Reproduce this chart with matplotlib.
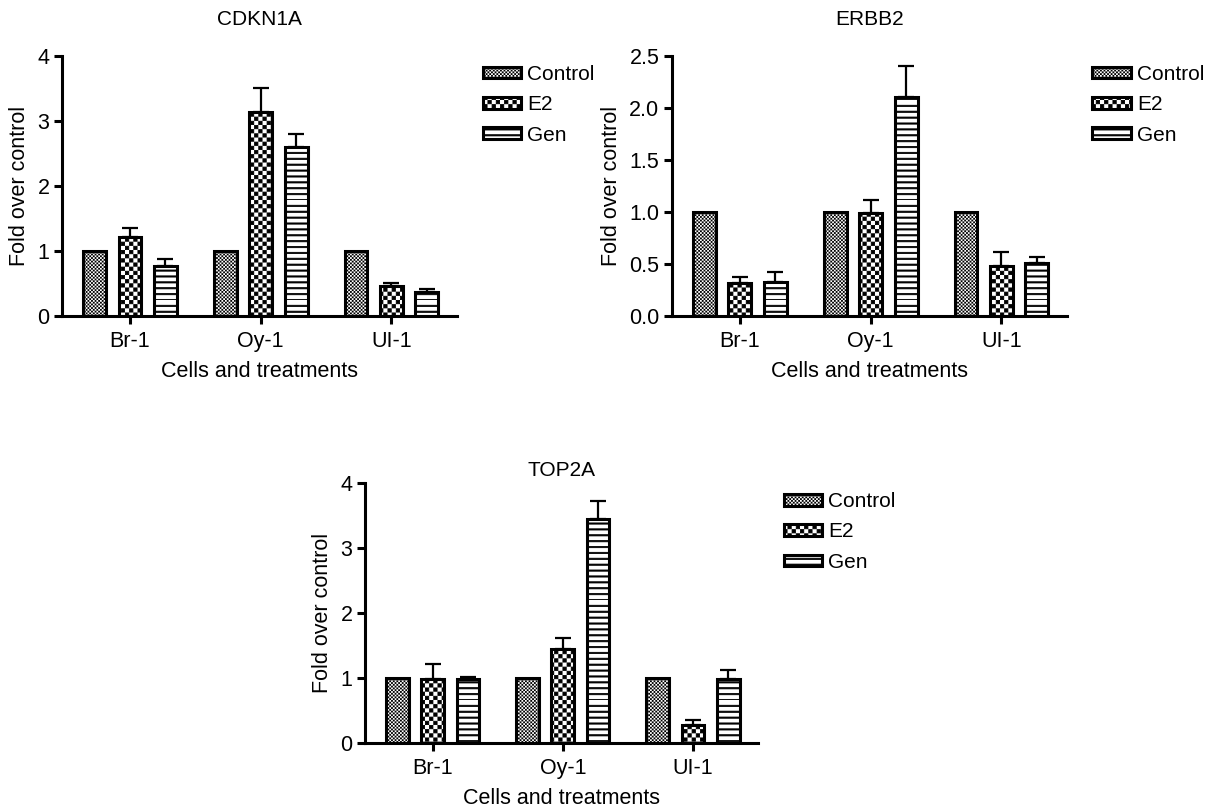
import warnings
import numpy as np
import matplotlib
matplotlib.use('Agg')
import matplotlib.pyplot as plt
import matplotlib.hatch as mhatch
from matplotlib.path import Path

warnings.filterwarnings('ignore')

# data
cells = ['Br-1', 'Oy-1', 'UI-1']
treatments = ['Control', 'E2', 'Gen']

cdkn1a_control = [1.0, 1.0, 1.0]
cdkn1a_e2 = [1.22, 3.14, 0.46]
cdkn1a_gen = [0.76, 2.60, 0.37]
cdkn1a_e2_err = [0.13, 0.36, 0.04]
cdkn1a_gen_err = [0.11, 0.20, 0.04]

erbb2_control = [1.0, 1.0, 1.0]
erbb2_e2 = [0.32, 0.99, 0.48]
erbb2_gen = [0.33, 2.10, 0.51]
erbb2_e2_err = [0.05, 0.12, 0.13]
erbb2_gen_err = [0.09, 0.30, 0.06]

top2a_control = [1.0, 1.0, 1.0]
top2a_e2 = [0.98, 1.45, 0.27]
top2a_gen = [0.98, 3.45, 0.99]
top2a_e2_err = [0.23, 0.17, 0.08]
top2a_gen_err = [0.04, 0.27, 0.14]

HATCH_LW = 0.6
EDGE = HATCH_LW / 72.0 / 2  # half the hatch stroke, in hatch units


def rect(vertices, codes, k, x0, y0, x1, y1):
    vertices[k:k + 5] = [[x0, y0], [x1, y0], [x1, y1], [x0, y1], [x0, y0]]
    codes[k:k + 5] = [Path.MOVETO, Path.LINETO, Path.LINETO,
                      Path.LINETO, Path.CLOSEPOLY]


# checkerboard hatch ('c' repeated sets how fine it is)
class CheckerHatch(mhatch.HatchPatternBase):
    def __init__(self, hatch, density):
        self.n = hatch.count('c') * 2
        self.num_vertices = (self.n * self.n // 2) * 5 if self.n else 0

    def set_vertices_and_codes(self, vertices, codes):
        s = 1.0 / self.n
        k = 0
        for i in range(self.n):
            for j in range(self.n):
                if (i + j) % 2:
                    continue
                rect(vertices, codes, k, i * s + EDGE, j * s + EDGE,
                     (i + 1) * s - EDGE, (j + 1) * s - EDGE)
                k += 5


# thick horizontal stripes ('h' repeated = number of stripes)
class StripeHatch(mhatch.HatchPatternBase):
    def __init__(self, hatch, density):
        self.n = hatch.count('h')
        self.num_vertices = self.n * 5

    def set_vertices_and_codes(self, vertices, codes):
        s = 1.0 / self.n
        t = 0.006
        for i in range(self.n):
            y = i * s
            rect(vertices, codes, i * 5, -0.01, y - t, 1.01, y + t)


mhatch._hatch_types.append(CheckerHatch)
mhatch._hatch_types.append(StripeHatch)

plt.rcParams['font.family'] = ['Liberation Sans', 'DejaVu Sans']
plt.rcParams['hatch.linewidth'] = HATCH_LW

hatches = ['c' * 28, 'c' * 12, 'h' * 17]

fig = plt.figure(figsize=(12.15, 8.08), dpi=100)

panels = [
    ('CDKN1A', [0.051, 0.609, 0.325, 0.322], cdkn1a_control, cdkn1a_e2, cdkn1a_gen,
     cdkn1a_e2_err, cdkn1a_gen_err, 4, [0, 1, 2, 3, 4], '%d', 22),
    ('ERBB2', [0.553, 0.609, 0.325, 0.322], erbb2_control, erbb2_e2, erbb2_gen,
     erbb2_e2_err, erbb2_gen_err, 2.5, [0, 0.5, 1.0, 1.5, 2.0, 2.5], '%.1f', 22),
    ('TOP2A', [0.3004, 0.0804, 0.3235, 0.322], top2a_control, top2a_e2, top2a_gen,
     top2a_e2_err, top2a_gen_err, 4, [0, 1, 2, 3, 4], '%d', 5),
]

x = np.arange(len(cells))
pitch = 0.271
w = 0.175
fs = 15.5

for title, pos, ctrl, e2, gen, e2err, generr, ymax, yt, fmt, tpad in panels:
    ax = fig.add_axes(pos)
    vals = [ctrl, e2, gen]
    errs = [None, e2err, generr]
    for k in range(3):
        xs = x + (k - 1) * pitch
        if errs[k] is not None:
            ax.errorbar(xs, vals[k], yerr=[np.zeros(3), errs[k]], fmt='none',
                        ecolor='black', elinewidth=1.6, capsize=5.5, capthick=1.6,
                        zorder=1)
        ax.bar(xs, vals[k], width=w, color='white', edgecolor='black',
               linewidth=2.2, hatch=hatches[k], label=treatments[k], zorder=2)
    ax.set_xlim(-0.52, 2.5)
    ax.set_ylim(0, ymax)
    ax.set_yticks(yt)
    ax.set_yticklabels([fmt % v for v in yt])
    ax.set_xticks(x)
    ax.set_xticklabels(cells)
    ax.spines['top'].set_visible(False)
    ax.spines['right'].set_visible(False)
    ax.spines['left'].set_linewidth(2.2)
    ax.spines['bottom'].set_linewidth(2.2)
    ax.tick_params(axis='both', direction='out', length=6, width=2.2,
                   labelsize=fs, pad=3)
    ax.tick_params(axis='x', pad=5)
    ax.set_xlabel('Cells and treatments', fontsize=fs, labelpad=6)
    ax.set_ylabel('Fold over control', fontsize=fs, labelpad=5)
    ax.set_title(title, fontsize=15, pad=tpad)
    ax.legend(loc='upper left', bbox_to_anchor=(1.065, 0.965), frameon=False,
              fontsize=15, handlelength=1.85, handleheight=0.5,
              handletextpad=0.3, labelspacing=0.55, borderpad=0,
              borderaxespad=0)

fig.savefig('out.png', dpi=100)
